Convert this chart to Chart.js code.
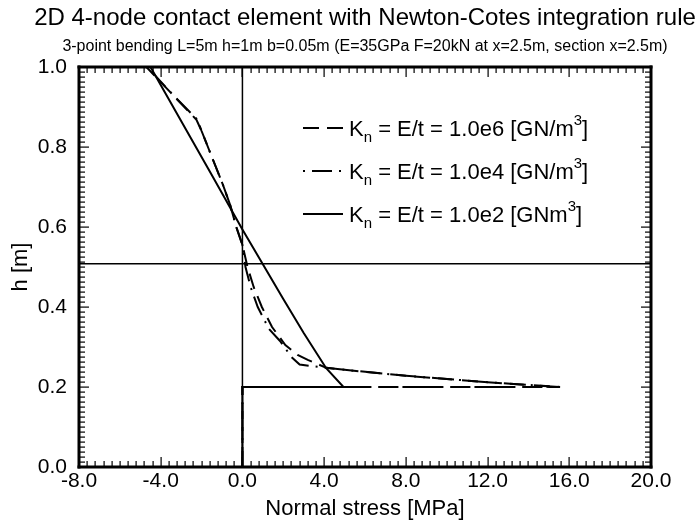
<!DOCTYPE html>
<html lang="en">
<head>
    <meta charset="UTF-8">
    <title>2D 4-node contact element</title>
    <script src="https://cdn.jsdelivr.net/npm/chart.js"></script>
    <style>
        body {
            margin: 0;
            background-color: #ffffff;
        }
        #wrap {
            width: 697px;
            height: 526px;
        }
    </style>
</head>
<body>
    <div id="wrap">
        <canvas id="stressChart" width="697" height="526"></canvas>
    </div>

    <script>
        // Datos: tension normal [MPa] y altura h [m]
        const stressKn1e6 = [0, 0, 15.55, 12.0, 8.0, 5.0, 4.1, 3.2, 2.7, 2.1, 1.45, 0.95, 0.55, 0.25, 0.0, -0.3, -0.6, -0.95, -1.3, -1.65, -2.0, -2.25, -3.4, -4.7];
        const heightKn1e6 = [0, 0.2, 0.2, 0.212, 0.228, 0.243, 0.248, 0.268, 0.28, 0.305, 0.35, 0.40, 0.45, 0.50, 0.555, 0.60, 0.655, 0.705, 0.75, 0.795, 0.84, 0.868, 0.93, 1.0];

        const stressKn1e4 = [0, 0, 15.5, 12.0, 8.0, 5.0, 4.1, 2.8, 2.4, 1.84, 1.3, 0.75, 0.4, 0.15, 0.0, -0.3, -0.6, -0.95, -1.3, -1.65, -2.0, -2.2, -3.4, -4.65];
        const heightKn1e4 = [0, 0.2, 0.2, 0.212, 0.228, 0.243, 0.248, 0.256, 0.275, 0.315, 0.345, 0.40, 0.45, 0.50, 0.555, 0.60, 0.655, 0.705, 0.75, 0.795, 0.84, 0.868, 0.93, 1.0];

        const stressKn1e2 = [0, 0, 4.95, 4.1, 3.0, 2.0, 1.0, 0.0, -1.5, -3.0, -4.5];
        const heightKn1e2 = [0, 0.2, 0.2, 0.247, 0.335, 0.42, 0.507, 0.594, 0.73, 0.865, 1.0];

        // Lineas de referencia: eje neutro y tension cero
        const neutralStress = [-8, 20];
        const neutralHeight = [0.508, 0.508];
        const zeroStress = [0, 0];
        const zeroHeight = [0, 1];

        const xTicks = [-8, -4, 0, 4, 8, 12, 16, 20];
        const yTicks = [0, 0.2, 0.4, 0.6, 0.8, 1.0];

        const legendLabels = [
            [['K', ''], ['n', 'sub'], [' = E/t = 1.0e6 [GN/m', ''], ['3', 'sup'], [']', '']],
            [['K', ''], ['n', 'sub'], [' = E/t = 1.0e4 [GN/m', ''], ['3', 'sup'], [']', '']],
            [['K', ''], ['n', 'sub'], [' = E/t = 1.0e2 [GNm', ''], ['3', 'sup'], [']', '']]
        ];

        const FONT = "'Liberation Sans', Arial, sans-serif";

        function toPoints(xs, ys) {
            return xs.map((x, i) => ({ x: x, y: ys[i] }));
        }

        // Marco grueso, marcas hacia dentro, titulos y leyenda
        const framePlugin = {
            id: 'frame',
            afterDraw(chart) {
                const ctx = chart.ctx;
                const area = chart.chartArea;
                const xs = chart.scales.x;
                const ys = chart.scales.y;
                ctx.save();
                ctx.setLineDash([]);
                ctx.globalAlpha = 1;
                ctx.strokeStyle = '#000000';
                ctx.fillStyle = '#000000';

                // marcas del eje x (cada 0.4, mayores cada 4)
                for (let i = 0; i <= 70; i++) {
                    const px = Math.round(xs.getPixelForValue(-8 + i * 0.4));
                    const len = i % 10 === 0 ? 10 : 6;
                    ctx.fillRect(px - 0.5, area.bottom - len, 1.2, len);
                    ctx.fillRect(px - 0.5, area.top, 1.2, len);
                }
                // marcas del eje y (mayores cada 0.2)
                for (let i = 0; i <= 80; i++) {
                    const py = Math.round(ys.getPixelForValue(i * 0.0125));
                    const len = i % 16 === 0 ? 10 : 6;
                    ctx.fillRect(area.left, py - 0.5, len, 1.2);
                    ctx.fillRect(area.right - len, py - 0.5, len, 1.2);
                }

                // marco
                const w = area.right - area.left;
                const h = area.bottom - area.top;
                ctx.fillRect(area.left - 1.5, area.top - 1.5, w + 3, 3);
                ctx.fillRect(area.left - 1.5, area.bottom - 1.5, w + 3, 3);
                ctx.fillRect(area.left - 1.5, area.top - 1.5, 3, h + 3);
                ctx.fillRect(area.right - 1.5, area.top - 1.5, 3, h + 3);

                // titulos
                const cx = (area.left + area.right) / 2;
                ctx.textAlign = 'center';
                ctx.textBaseline = 'alphabetic';
                ctx.font = '24px ' + FONT;
                ctx.fillText('2D 4-node contact element with Newton-Cotes integration rule', cx, 25);
                ctx.font = '16px ' + FONT;
                ctx.fillText('3-point bending L=5m h=1m b=0.05m (E=35GPa F=20kN at x=2.5m, section x=2.5m)', cx, 51);

                // leyenda
                const order = [4, 3, 2];
                ctx.textAlign = 'left';
                order.forEach((dsIndex, row) => {
                    const ds = chart.data.datasets[dsIndex];
                    const yRow = 128 + row * 43;
                    ctx.lineWidth = 2;
                    ctx.setLineDash(ds.legendDash || []);
                    ctx.beginPath();
                    ctx.moveTo(303, yRow);
                    ctx.lineTo(343, yRow);
                    ctx.stroke();
                    ctx.setLineDash([]);
                    let tx = 349;
                    legendLabels[row].forEach(([txt, kind]) => {
                        let by = yRow + 8;
                        if (kind === 'sub') {
                            ctx.font = '15px ' + FONT;
                            by = yRow + 14;
                        } else if (kind === 'sup') {
                            ctx.font = '15px ' + FONT;
                            by = yRow - 3;
                        } else {
                            ctx.font = '22px ' + FONT;
                        }
                        ctx.fillText(txt, tx, by);
                        tx += ctx.measureText(txt).width;
                    });
                });
                ctx.restore();
            }
        };

        const ctx = document.getElementById('stressChart').getContext('2d');
        new Chart(ctx, {
            type: 'scatter',
            data: {
                datasets: [
                    {
                        label: 'neutral',
                        data: toPoints(neutralStress, neutralHeight),
                        showLine: true,
                        borderColor: '#000',
                        borderWidth: 1.5,
                        pointRadius: 0
                    },
                    {
                        label: 'zero',
                        data: toPoints(zeroStress, zeroHeight),
                        showLine: true,
                        borderColor: '#000',
                        borderWidth: 1.5,
                        pointRadius: 0
                    },
                    {
                        label: 'Kn = E/t = 1.0e2 [GNm3]',
                        data: toPoints(stressKn1e2, heightKn1e2),
                        showLine: true,
                        borderColor: '#000',
                        borderWidth: 2,
                        pointRadius: 0,
                        legendDash: []
                    },
                    {
                        label: 'Kn = E/t = 1.0e4 [GN/m3]',
                        data: toPoints(stressKn1e4, heightKn1e4),
                        showLine: true,
                        borderColor: '#000',
                        borderWidth: 2,
                        borderDash: [20, 7, 2, 7],
                        pointRadius: 0,
                        legendDash: [2, 7, 20, 7]
                    },
                    {
                        label: 'Kn = E/t = 1.0e6 [GN/m3]',
                        data: toPoints(stressKn1e6, heightKn1e6),
                        showLine: true,
                        borderColor: '#000',
                        borderWidth: 2,
                        borderDash: [16, 8],
                        pointRadius: 0,
                        legendDash: [16, 8]
                    }
                ]
            },
            options: {
                responsive: false,
                animation: false,
                layout: { padding: { top: 67, right: 46, left: 0, bottom: 0 } },
                plugins: {
                    legend: { display: false },
                    tooltip: { enabled: false }
                },
                scales: {
                    x: {
                        type: 'linear',
                        min: -8,
                        max: 20,
                        afterFit: (s) => { s.height = 59; },
                        afterBuildTicks: (s) => { s.ticks = xTicks.map(v => ({ value: v })); },
                        grid: { display: false },
                        border: { display: false },
                        ticks: {
                            color: '#000',
                            font: { family: FONT, size: 21 },
                            padding: -6,
                            maxRotation: 0,
                            callback: (v) => v.toFixed(1)
                        },
                        title: {
                            display: true,
                            text: 'Normal stress [MPa]',
                            color: '#000',
                            font: { family: FONT, size: 22 },
                            padding: { top: 0, bottom: 4 }
                        }
                    },
                    y: {
                        type: 'linear',
                        min: 0,
                        max: 1,
                        afterFit: (s) => { s.width = 79; },
                        afterBuildTicks: (s) => { s.ticks = yTicks.map(v => ({ value: v })); },
                        grid: { display: false },
                        border: { display: false },
                        ticks: {
                            color: '#000',
                            font: { family: FONT, size: 21 },
                            padding: 4,
                            callback: (v) => v.toFixed(1)
                        },
                        title: {
                            display: true,
                            text: 'h [m]',
                            color: '#000',
                            font: { family: FONT, size: 22 },
                            padding: { top: 8, bottom: 0 }
                        }
                    }
                }
            },
            plugins: [framePlugin]
        });
    </script>
</body>
</html>
